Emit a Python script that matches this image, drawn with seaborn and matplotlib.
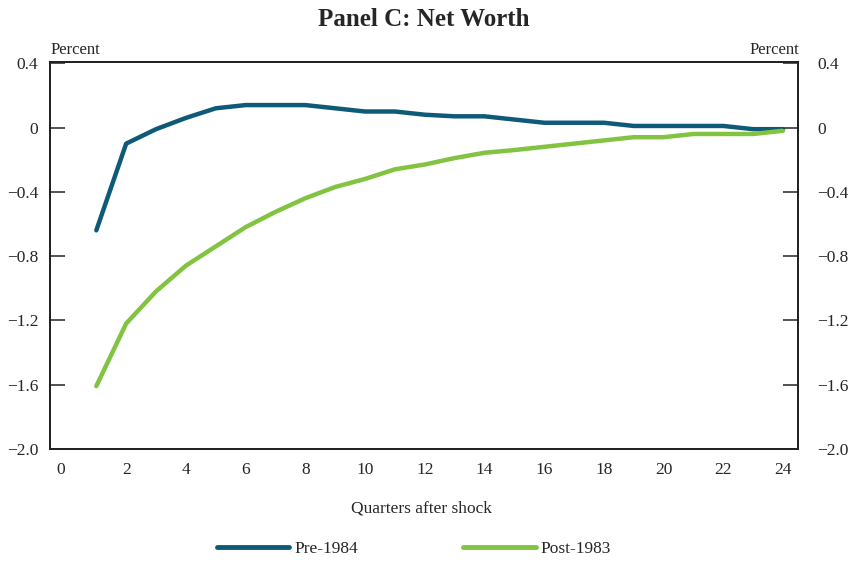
import matplotlib
matplotlib.use("Agg")
import matplotlib.pyplot as plt
import seaborn as sb
import pandas as pd

# responses to the shock, quarters 1..24
quarters = list(range(1, 25))
pre_1984 = [-0.64, -0.10, -0.01, 0.06, 0.12, 0.14, 0.14, 0.14, 0.12, 0.10, 0.10, 0.08,
            0.07, 0.07, 0.05, 0.03, 0.03, 0.03, 0.01, 0.01, 0.01, 0.01, -0.01, -0.01]
post_1983 = [-1.61, -1.22, -1.02, -0.86, -0.74, -0.62, -0.525, -0.44, -0.37, -0.32, -0.26, -0.23,
             -0.19, -0.157, -0.14, -0.12, -0.10, -0.08, -0.06, -0.06, -0.04, -0.04, -0.04, -0.02]
series_names = ["Pre-1984", "Post-1983"]
x_ticks = list(range(0, 25, 2))
y_ticks = [0.4, 0, -0.4, -0.8, -1.2, -1.6, -2.0]
y_labels = ["0.4", "0", "\u22120.4", "\u22120.8", "\u22121.2", "\u22121.6", "\u22122.0"]

df = pd.DataFrame({
    "quarter": quarters * 2,
    "value": pre_1984 + post_1983,
    "series": [series_names[0]] * len(quarters) + [series_names[1]] * len(quarters),
})

sb.set_style("white")
plt.rcParams["font.family"] = ["Liberation Serif", "DejaVu Serif"]

fig = plt.figure(figsize=(8.48, 5.61), dpi=100)
ax = fig.add_axes([0.059, 0.2, 0.882, 0.69])
palette = {"Pre-1984": "#0f5a78", "Post-1983": "#82c341"}
sb.lineplot(data=df, x="quarter", y="value", hue="series", palette=palette,
            linewidth=3.2, ax=ax, legend=False)

ax.set_xlim(-0.55, 24.5)
ax.set_ylim(-2.0, 0.41)
ax.set_xticks(x_ticks[1:])
ax.set_xticklabels([])
# x labels drawn below, including 0 which has no tick mark
for t in x_ticks:
    ax.text(t - (0.2 if t == 0 else 0), -2.13, str(t), ha="center", va="center", fontsize=12.5)
ax.set_yticks(y_ticks)
ax.set_yticklabels(y_labels, fontsize=12.5)
ax.tick_params(axis="y", direction="in", length=11, width=1.2, color="#333333", pad=8.5)
ax.tick_params(axis="x", direction="in", length=9, width=0.8, color="#333333")
ax.set_xlabel("")
ax.set_ylabel("")

ax2 = ax.twinx()
ax2.set_ylim(ax.get_ylim())
ax2.set_yticks(y_ticks)
ax2.set_yticklabels(y_labels, fontsize=12.5)
ax2.tick_params(axis="y", direction="in", length=11, width=1.2, color="#333333", pad=14)

for a in (ax, ax2):
    for s in a.spines.values():
        s.set_color("#222222")
        s.set_linewidth(1.3)

fig.text(0.5, 0.966, "Panel C: Net Worth", ha="center", va="center",
         fontsize=18, fontweight="bold")
fig.text(0.059, 0.897, "Percent", ha="left", va="bottom", fontsize=12)
fig.text(0.943, 0.897, "Percent", ha="right", va="bottom", fontsize=12)
fig.text(0.497, 0.094, "Quarters after shock", ha="center", va="center", fontsize=12.5)

handles = [plt.Line2D([], [], color=palette[n], linewidth=3.5) for n in series_names]
fig.legend(handles, series_names, loc="center", bbox_to_anchor=(0.488, 0.022), ncol=2,
           frameon=False, fontsize=12.5, handlelength=4.2, handletextpad=0.3, columnspacing=6.0)

fig.savefig("out.png", dpi=100)
